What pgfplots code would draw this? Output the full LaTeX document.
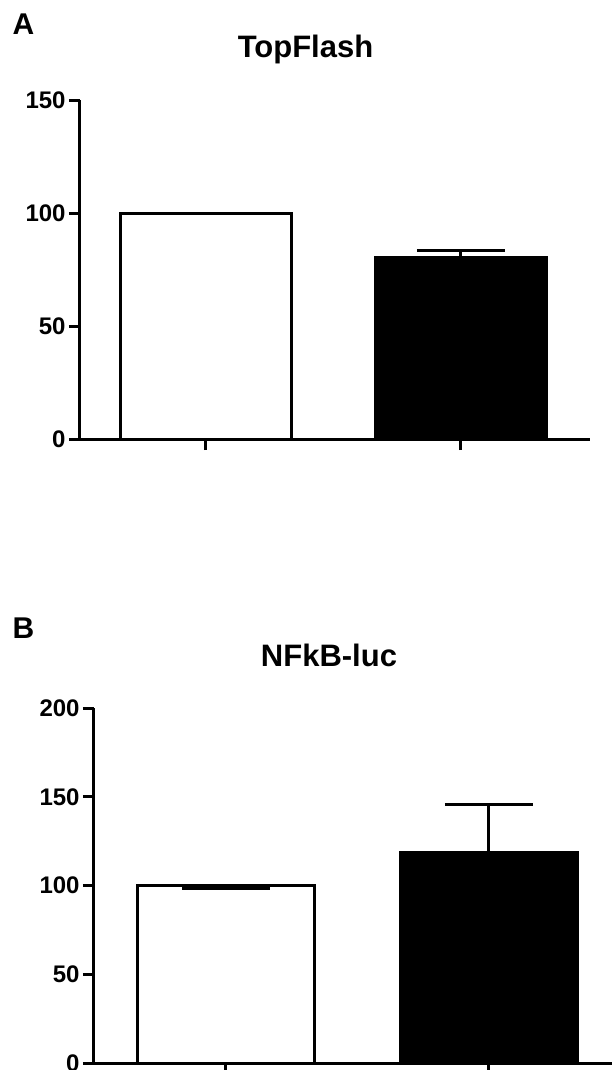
\documentclass[border=0pt]{standalone}
\usepackage{fontspec}
\setmainfont{Liberation Sans}
\usepackage{pgfplots}
\pgfplotsset{compat=1.18}
\begin{document}
\begin{tikzpicture}
\useasboundingbox (0,0) rectangle (307pt,-535pt);
\pgfplotsset{
 panel/.style={
  scale only axis, axis lines=left, axis line style={-, line width=1.5pt},
  tick style={line width=1.5pt, black}, tick align=outside, major tick length=5.5pt,
  xtick={1,2}, xticklabels={}, ymin=0,
  yticklabel style={font=\bfseries\fontsize{12}{14}\selectfont, inner sep=1.5pt},
  /pgf/number format/assume math mode=true,
  clip=false,
 },
 errb/.style={error bars/.cd, y dir=plus, y explicit,
   error mark options={rotate=90, line width=1.5pt, mark size=22pt, black},
   error bar style={line width=1.5pt, black}},
}
\node[font=\bfseries\fontsize{15}{17}\selectfont] at (11.75pt,-12.25pt) {A};
\node[font=\bfseries\fontsize{15.5}{17}\selectfont, anchor=base] at (152.75pt,-28.75pt) {TopFlash};
\begin{axis}[panel, at={(40pt,-219.5pt)}, anchor=south west,
  width=255pt, height=169.5pt, xmin=0.506, xmax=2.506, ymax=150, ytick={0,50,100,150}]
\addplot[ybar, bar shift=0pt, bar width=0.67, fill=white, draw=black, line width=1.5pt] coordinates {(1,100)};
\addplot[ybar, bar shift=0pt, bar width=0.67, fill=black, draw=black, line width=1.5pt, errb] coordinates {(2,80.5) +- (0,3)};
\end{axis}
\node[font=\bfseries\fontsize{15}{17}\selectfont] at (11.75pt,-314pt) {B};
\node[font=\bfseries\fontsize{15.5}{17}\selectfont, anchor=base] at (164.5pt,-333pt) {NFkB-luc};
\begin{axis}[panel, at={(47pt,-531.5pt)}, anchor=south west,
  width=259pt, height=177.5pt, xmin=0.498, xmax=2.468, ymax=200, ytick={0,50,100,150,200}]
\addplot[ybar, bar shift=0pt, bar width=0.673, fill=white, draw=black, line width=1.5pt,
  error bars/.cd, y dir=minus, y explicit,
   error mark options={rotate=90, line width=1.5pt, mark size=22pt, black},
   error bar style={line width=1.5pt, black}] coordinates {(1,100) +- (0,1.5)};
\addplot[ybar, bar shift=0pt, bar width=0.673, fill=black, draw=black, line width=1.5pt, errb] coordinates {(2,118.5) +- (0,27)};
\end{axis}
\end{tikzpicture}
\end{document}
